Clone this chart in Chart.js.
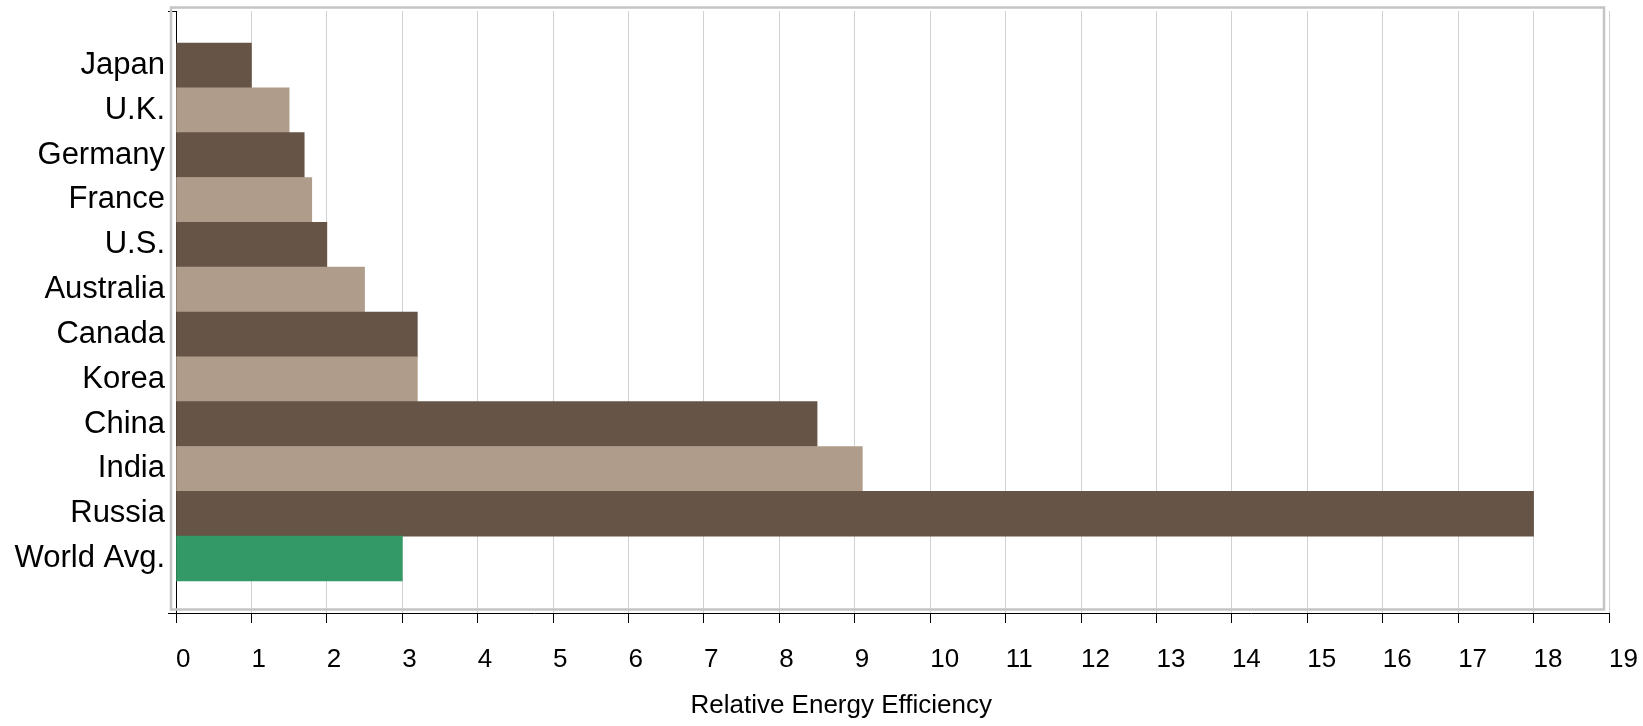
<!DOCTYPE html>
<html>
<head>
<meta charset="utf-8">
<script src="https://cdn.jsdelivr.net/npm/chart.js@4"></script>
<style>
  html, body { margin: 0; padding: 0; background: #ffffff; }
  #wrap { width: 1643px; height: 726px; }
</style>
</head>
<body>
<div id="wrap"><canvas id="c" width="1643" height="726"></canvas></div>
<script>
// ---- data ----
const categories = ["Japan", "U.K.", "Germany", "France", "U.S.", "Australia", "Canada", "Korea", "China", "India", "Russia", "World Avg."];
const efficiency = [1.0, 1.5, 1.7, 1.8, 2.0, 2.5, 3.2, 3.2, 8.5, 9.1, 18.0, 3.0];
const xTickMin = 0;
const xTickMax = 19;
const xAxisTitle = "Relative Energy Efficiency";

// ---- styles ----
const FONT = '"Liberation Sans", Arial, Helvetica, sans-serif';
const DARK = '#665547';
const LIGHT = '#af9c8b';
const GREEN = '#339966';
const barColors = categories.map((c, i) => i === categories.length - 1 ? GREEN : (i % 2 === 0 ? DARK : LIGHT));

const yPad = 1.213; // empty space above first / below last bar, in category units
const yMin = -yPad;
const yMax = categories.length - 1 + yPad;

const framePlugin = {
  id: 'frame',
  beforeDatasetsDraw(chart) {
    const a = chart.chartArea, ctx = chart.ctx;
    ctx.save();
    ctx.strokeStyle = '#c4c4c4';
    ctx.lineWidth = 2.5;
    ctx.strokeRect(a.left - 5, a.top - 3.5, a.right - a.left, a.bottom - a.top);
    ctx.restore();
  }
};

const titlePlugin = {
  id: 'xtitle',
  afterDraw(chart) {
    const ctx = chart.ctx;
    ctx.save();
    ctx.font = '26px ' + FONT;
    ctx.fillStyle = '#000';
    ctx.textAlign = 'center';
    ctx.textBaseline = 'alphabetic';
    ctx.fillText(xAxisTitle, chart.width * 0.512, 713);
    ctx.restore();
  }
};

new Chart(document.getElementById('c'), {
  type: 'bar',
  data: {
    datasets: [{
      data: efficiency.map((v, i) => ({ x: v, y: i })),
      backgroundColor: barColors,
      borderWidth: 0,
      barPercentage: 1.0,
      categoryPercentage: 1.0
    }]
  },
  options: {
    indexAxis: 'y',
    responsive: false,
    devicePixelRatio: 1,
    animation: false,
    layout: { padding: { top: 11, right: 34, left: 0, bottom: 0 } },
    plugins: { legend: { display: false }, tooltip: { enabled: false } },
    scales: {
      x: {
        type: 'linear',
        position: 'bottom',
        min: xTickMin,
        max: xTickMax,
        offset: false,
        afterFit(scale) { scale.height = 113; scale.paddingLeft = 0; scale.paddingRight = 0; },
        afterBuildTicks(scale) {
          const t = [];
          for (let v = xTickMin; v <= xTickMax; v++) t.push({ value: v });
          scale.ticks = t;
        },
        ticks: {
          autoSkip: false,
          maxRotation: 0,
          align: 'start',
          padding: 21,
          color: '#000',
          font: { family: FONT, size: 26 },
          callback: (v) => String(v)
        },
        grid: {
          offset: false,
          color: '#d2d2d2',
          lineWidth: 1,
          tickColor: '#000',
          tickLength: 10,
          drawTicks: true
        },
        border: { display: true, color: '#000', width: 1 }
      },
      y: {
        type: 'linear',
        position: 'left',
        reverse: true,
        offset: false,
        min: yMin,
        max: yMax,
        afterFit(scale) { scale.width = 176; scale.paddingTop = 0; scale.paddingBottom = 0; },
        afterBuildTicks(scale) {
          const t = [{ value: yMin }];
          categories.forEach((c, i) => t.push({ value: i }));
          t.push({ value: yMax });
          scale.ticks = t;
        },
        ticks: {
          autoSkip: false,
          padding: 3,
          color: '#000',
          font: { family: FONT, size: 31 },
          callback: (v) => (Number.isInteger(v) && v >= 0 && v < categories.length) ? categories[v] : ''
        },
        grid: {
          offset: false,
          drawOnChartArea: false,
          drawTicks: true,
          tickLength: 8,
          color: (ctx) => (ctx.tick && (ctx.tick.value === yMin || ctx.tick.value === yMax)) ? '#000' : 'rgba(0,0,0,0)'
        },
        border: { display: true, color: '#000', width: 1 }
      }
    }
  },
  plugins: [framePlugin, titlePlugin]
});
</script>
</body>
</html>
